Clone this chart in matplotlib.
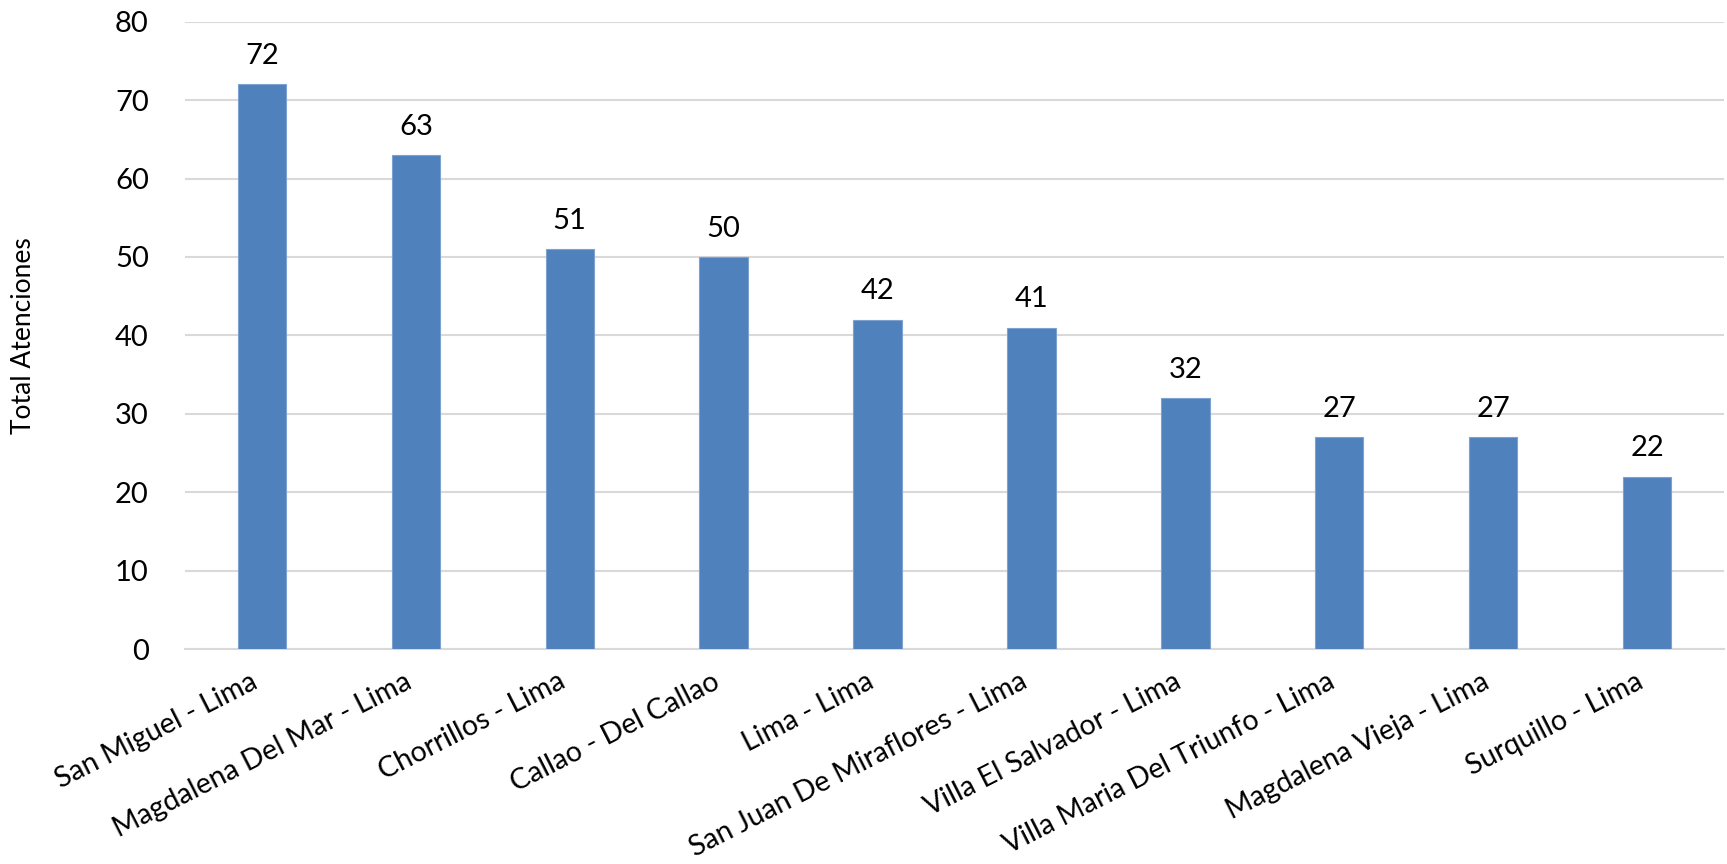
import matplotlib.pyplot as plt

plt.rcParams['font.family'] = ['Lato', 'DejaVu Sans']

districts = ["San Miguel - Lima", "Magdalena Del Mar - Lima", "Chorrillos - Lima",
             "Callao - Del Callao", "Lima - Lima", "San Juan De Miraflores - Lima",
             "Villa El Salvador - Lima", "Villa Maria Del Triunfo - Lima",
             "Magdalena Vieja - Lima", "Surquillo - Lima"]
atenciones = [72, 63, 51, 50, 42, 41, 32, 27, 27, 22]

fig = plt.figure(figsize=(17.27, 8.64), dpi=100)
ax = fig.add_axes([0.1071, 0.2488, 0.8912, 0.7261])

x = range(len(districts))
bars = ax.bar(x, atenciones, width=0.314, color='#4F81BD', edgecolor='#7EA2D0',
              linewidth=0.8, zorder=3)

for b, v in zip(bars, atenciones):
    ax.annotate(str(v), (b.get_x() + b.get_width() / 2, v), xytext=(0, 11),
                textcoords='offset points', ha='center', va='bottom', fontsize=21)

ax.set_xlim(-0.5, len(districts) - 0.5)
ax.set_ylim(0, 80)
ax.set_yticks(range(0, 81, 10))
ax.tick_params(axis='y', length=0, labelsize=21, pad=26)
ax.tick_params(axis='x', length=0, labelsize=20.5, pad=14)
ax.set_xticks(list(x))
ax.set_xticklabels(districts, rotation=27, ha='right', va='top')

ax.grid(axis='y', color='#D9D9D9', linewidth=1.5, zorder=0)
for s in ['top', 'right', 'left']:
    ax.spines[s].set_visible(False)
ax.spines['bottom'].set_color('#D9D9D9')
ax.spines['bottom'].set_linewidth(1.5)

ax.set_ylabel('Total Atenciones', fontsize=19)
ax.yaxis.set_label_coords(-0.097, 0.5)

fig.savefig('out.png', dpi=100)
